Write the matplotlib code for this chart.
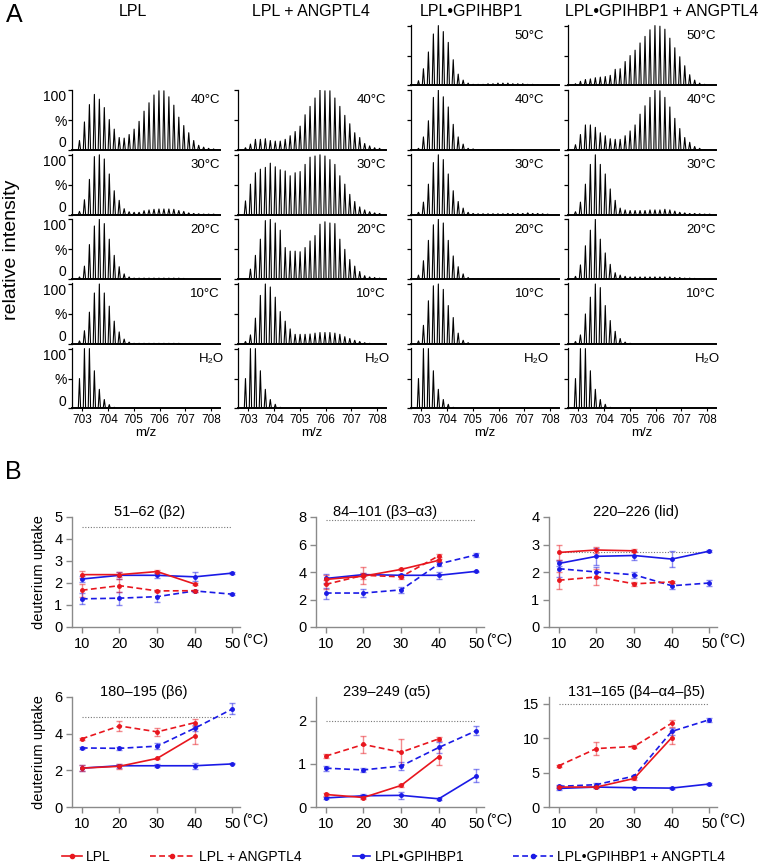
import matplotlib
matplotlib.use('Agg')
import matplotlib.pyplot as plt
from matplotlib.lines import Line2D
from matplotlib.colors import to_rgba

plt.rcParams['font.family'] = ['Liberation Sans', 'DejaVu Sans']

# ---------------- Panel A data ----------------
COLUMN_TITLES = ['LPL', 'LPL + ANGPTL4', 'LPL\u2022GPIHBP1', 'LPL\u2022GPIHBP1 + ANGPTL4']
ROW_LABELS = ['50°C', '40°C', '30°C', '20°C', '10°C', 'H\u2082O']
MZ_TICKS = [703, 704, 705, 706, 707, 708]
PEAK_START_MZ = 702.89
PEAK_SPACING_MZ = 0.193

LPL_SPECTRA = [
    None,
    [16, 47, 76, 93, 85, 71, 51, 35, 21, 20, 26, 35, 48, 65, 79, 92, 99, 99, 89, 75, 55, 41, 29, 16, 8, 5, 3, 2],
    [5.5, 25, 59, 97, 100, 93, 68, 40, 24, 10, 5, 4, 4, 6.7, 8, 9, 9.5, 9.5, 9.5, 9, 7, 5.5, 3, 2, 1.5, 1, 1, 1],
    [4, 22, 58, 89, 100, 93, 67, 40, 21, 9, 4, 2, 2, 2, 2, 2, 2, 2, 2, 2, 2, 1.5],
    [5, 22, 53, 85, 100, 85, 63, 38, 20, 8, 3, 1, 1, 1, 1, 1, 1, 1, 1, 1, 1],
    [50, 100, 100, 63, 32, 15, 6.5, 2],
]
LPL_ANG_SPECTRA = [
    None,
    [4, 10, 18, 18, 19, 16, 15, 15, 18, 24, 31, 40, 59, 73, 87, 100, 99, 99, 87, 73, 58, 44, 29, 21, 11, 7, 4, 3],
    [23, 51, 70, 76, 79, 86, 80, 75, 73, 65, 70, 72, 84, 96, 98, 100, 98, 92, 84, 65, 51, 34, 22, 13, 8, 5, 3, 2],
    [1, 17, 40, 67, 98, 100, 94, 82, 53, 47, 47, 46, 53, 64, 73, 92, 96, 94, 93, 67, 50, 33, 22, 13, 6, 4, 3, 2],
    [4, 15, 43, 81, 100, 95, 78, 54, 38, 25, 16, 16, 16, 16.5, 18, 19, 19, 19, 18, 16, 12, 9, 6, 4, 2, 1, 0.5, 0.5],
    [50, 100, 100, 63, 32, 15, 7, 2],
]
GP_SPECTRA = [
    [8, 28, 56, 86, 100, 90, 72, 43, 19, 9, 4, 2, 2, 2, 3, 3, 4, 4, 4, 3, 3, 3, 2, 2, 1.5, 1, 1, 0.5],
    [3, 22, 49, 88, 100, 89, 72, 43, 22, 10, 3, 2, 1, 1, 1, 1, 1, 1, 1, 1],
    [4, 21, 51, 87, 100, 92, 68, 40, 22, 11, 4, 2, 1.5, 1.5, 1.5, 1.5, 1.5, 1.5, 2, 2, 2, 2, 3, 2, 2, 1.5, 1],
    [7, 31, 65, 91, 100, 94, 65, 39, 21, 9, 3, 1, 1, 1, 1, 1, 1, 1, 1, 1, 1, 1, 1, 1, 1],
    [5, 31, 72, 97, 100, 91, 64, 44, 18, 6, 2],
    [50, 100, 100, 63, 32, 15, 7, 2],
]
GP_ANG_SPECTRA = [
    [3, 7, 10, 11, 13, 14, 15, 17, 27, 28, 40, 50, 59, 71, 82, 93, 100, 99, 94, 79, 63, 48, 33, 18, 9, 4, 2, 1],
    [9, 26, 42, 42, 38, 29, 24, 19, 18, 18, 24, 32, 42, 60, 74, 88, 100, 99, 88, 72, 53, 36, 21, 13, 6, 3, 1, 0.5],
    [5, 21, 51, 84, 100, 84, 68, 43, 24, 11, 8, 7, 7, 7, 7, 8, 8, 8, 9, 8, 6, 4, 3, 2, 2, 1.5, 1, 1],
    [5, 24, 56, 82, 100, 67, 44, 25, 11, 7, 5, 4, 4, 4, 4, 4, 4, 4, 4, 4, 3, 3, 2, 2, 1.5, 1, 1, 1],
    [4, 15, 50, 78, 100, 94, 64, 39, 21, 9, 3, 1],
    [50, 100, 100, 63, 32, 15, 7, 2],
]
SPECTRA = [LPL_SPECTRA, LPL_ANG_SPECTRA, GP_SPECTRA, GP_ANG_SPECTRA]

# ---------------- Panel B data ----------------
TEMPS = [10, 20, 30, 40, 50]
PEPTIDES = ['51\u201362 (\u03b22)', '84\u2013101 (\u03b23\u2013\u03b13)', '220\u2013226 (lid)',
            '180\u2013195 (\u03b26)', '239\u2013249 (\u03b15)', '131\u2013165 (\u03b24\u2013\u03b14\u2013\u03b25)']
MAX_UPTAKE = [4.55, 7.75, 2.72, 4.92, 2.0, 15.0]
Y_MAX = [5, 8, 4, 6, 2.55, 16]
Y_TICKS = [[0, 1, 2, 3, 4, 5], [0, 2, 4, 6, 8], [0, 1, 2, 3, 4], [0, 2, 4, 6], [0, 1, 2], [0, 5, 10, 15]]
SERIES_NAMES = ['LPL', 'LPL + ANGPTL4', 'LPL\u2022GPIHBP1', 'LPL\u2022GPIHBP1 + ANGPTL4']

LPL_UPTAKE = [[2.38, 2.38, 2.52, 1.95], [3.46, 3.70, 4.19, 4.85], [2.71, 2.80, 2.77],
              [2.12, 2.22, 2.65, 3.87], [0.29, 0.22, 0.50, 1.17], [2.9, 2.9, 4.15, 10.1]]
LPL_ERR = [[0.15, 0.10, 0.06, 0.06], [0.35, 0.20, 0.08, 0.10], [0.28, 0.10, 0.05],
           [0.15, 0.12, 0.05, 0.45], [0.03, 0.04, 0.03, 0.20], [0.2, 0.15, 0.2, 1.0]]
LPL_ANG_UPTAKE = [[1.67, 1.88, 1.64, 1.65], [3.10, 3.76, 3.65, 5.18], [1.70, 1.82, 1.57, 1.64],
                  [3.72, 4.42, 4.10, 4.60], [1.18, 1.45, 1.27, 1.58], [6.0, 8.5, 8.8, 12.2]]
LPL_ANG_ERR = [[0.30, 0.30, 0.05, 0.05], [0.30, 0.60, 0.15, 0.10], [0.30, 0.28, 0.08, 0.05],
               [0.05, 0.25, 0.20, 0.20], [0.04, 0.20, 0.30, 0.05], [0.15, 0.9, 0.2, 0.5]]
GP_UPTAKE = [[2.18, 2.35, 2.35, 2.28, 2.45], [3.53, 3.81, 3.76, 3.76, 4.05], [2.31, 2.57, 2.60, 2.47, 2.76],
             [2.12, 2.25, 2.25, 2.25, 2.35], [0.21, 0.26, 0.27, 0.19, 0.72], [2.7, 2.9, 2.8, 2.75, 3.35]]
GP_ERR = [[0.15, 0.15, 0.12, 0.20, 0.03], [0.35, 0.10, 0.10, 0.25, 0.03], [0.10, 0.30, 0.15, 0.28, 0.03],
          [0.15, 0.12, 0.08, 0.15, 0.03], [0.03, 0.04, 0.08, 0.02, 0.15], [0.2, 0.15, 0.1, 0.2, 0.1]]
GP_ANG_UPTAKE = [[1.28, 1.31, 1.38, 1.64, 1.49], [2.47, 2.47, 2.70, 4.59, 5.25], [2.12, 2.00, 1.90, 1.50, 1.60],
                 [3.22, 3.20, 3.32, 4.30, 5.35], [0.90, 0.86, 0.95, 1.38, 1.77], [3.0, 3.25, 4.5, 11.0, 12.7]]
GP_ANG_ERR = [[0.25, 0.30, 0.25, 0.05, 0.05], [0.40, 0.30, 0.20, 0.15, 0.15], [0.30, 0.20, 0.10, 0.10, 0.12],
              [0.05, 0.10, 0.15, 0.15, 0.30], [0.06, 0.05, 0.10, 0.12, 0.10], [0.2, 0.2, 0.2, 0.5, 0.3]]

# ---------------- figure & layout ----------------
W, H = 762, 863
fig = plt.figure(figsize=(W / 100, H / 100), dpi=100)


def add_ax(left, top, width, height):
    return fig.add_axes([left / W, 1 - (top + height) / H, width / W, height / H])


RED = '#e8161e'
BLUE = '#1a1ae6'

# ---------------- Panel A ----------------
A_COL_LEFT = [72, 238, 411, 568]
A_COL_W = 148
A_ROW_TOP0 = 25
A_ROW_STEP = 64.6
A_ROW_H = 60.5
LABEL_XFRAC = [1.0, 1.0, 0.9, 1.0]
HALF_W = 0.045

for c, col_spectra in enumerate(SPECTRA):
    for r, heights in enumerate(col_spectra):
        if heights is None:
            continue
        ax = add_ax(A_COL_LEFT[c], A_ROW_TOP0 + r * A_ROW_STEP, A_COL_W, A_ROW_H)
        xs, ys = [], []
        for k, h in enumerate(heights):
            mz = PEAK_START_MZ + k * PEAK_SPACING_MZ
            xs += [mz - HALF_W, mz, mz + HALF_W]
            ys += [0, h, 0]
        ax.plot(xs, ys, color='black', lw=0.8)
        ax.set_xlim(702.6, 708.35)
        ax.set_ylim(0, 101)
        for s in ('top', 'right'):
            ax.spines[s].set_visible(False)
        ax.spines['bottom'].set_linewidth(1.4)
        ax.spines['left'].set_linewidth(0.9)
        ax.set_yticks([0, 50, 100])
        ax.tick_params(axis='y', direction='out', length=3, width=0.9, pad=1)
        if c == 0:
            labels = ax.set_yticklabels(['0', '%', '100'], fontsize=10)
            labels[0].set_verticalalignment('bottom')
            labels[2].set_verticalalignment('top')
        else:
            ax.set_yticklabels([])
        ax.set_xticks(MZ_TICKS)
        if r == len(col_spectra) - 1:
            ax.set_xticklabels([str(t) for t in MZ_TICKS], fontsize=8.5)
            ax.tick_params(axis='x', direction='out', length=2, width=0.8, pad=2)
            ax.set_xlabel('m/z', fontsize=9.5, labelpad=1)
        else:
            ax.tick_params(axis='x', length=0, labelbottom=False)
        xf = LABEL_XFRAC[c] + (0.03 if r == len(col_spectra) - 1 else 0)
        ax.text(xf, 0.82, ROW_LABELS[r], transform=ax.transAxes, ha='right', va='center', fontsize=9.5)

TITLE_X = [133, 311, 471, 662]
for c, t in enumerate(COLUMN_TITLES):
    fig.text(TITLE_X[c] / W, 1 - 11 / H, t, ha='center', va='center', fontsize=11.5)

fig.text(14 / W, 1 - 15 / H, 'A', ha='center', va='center', fontsize=18)
fig.text(12 / W, 1 - 250 / H, 'relative intensity', rotation=90, ha='center', va='center', fontsize=14)

# ---------------- Panel B ----------------
fig.text(13 / W, 1 - 472 / H, 'B', ha='center', va='center', fontsize=18)

B_COL_LEFT = [72, 316, 549]
B_ROW_TOP = [517, 697]
B_W, B_H = 168, 110
TITLE_XFRAC = [0.46, 0.41, 0.52, 0.43, 0.42, 0.52]

series = [
    (LPL_UPTAKE, LPL_ERR, RED, '-'),
    (LPL_ANG_UPTAKE, LPL_ANG_ERR, RED, (0, (3.5, 2))),
    (GP_UPTAKE, GP_ERR, BLUE, '-'),
    (GP_ANG_UPTAKE, GP_ANG_ERR, BLUE, (0, (3.5, 2))),
]
draw_order = [2, 3, 0, 1]

for i in range(6):
    row, col = divmod(i, 3)
    ax = add_ax(B_COL_LEFT[col], B_ROW_TOP[row], B_W, B_H)
    ax.hlines(MAX_UPTAKE[i], TEMPS[0], TEMPS[-1], colors='#777777', linestyles=(0, (1, 1.5)), lw=0.8)
    for s in draw_order:
        vals, errs, color, ls = series[s]
        y = vals[i]
        x = TEMPS[:len(y)]
        ax.errorbar(x, y, yerr=errs[i], color=color, ls=ls, lw=1.2, marker='o', ms=2.5,
                    ecolor=to_rgba(color, 0.5), elinewidth=1.0, capsize=2, capthick=1.0)
    ax.set_xlim(7.4, 52)
    ax.set_ylim(0, Y_MAX[i])
    ax.set_yticks(Y_TICKS[i])
    ax.set_yticklabels([str(v) for v in Y_TICKS[i]])
    ax.set_xticks(TEMPS)
    ax.set_xticklabels([str(t) for t in TEMPS])
    for s in ('top', 'right'):
        ax.spines[s].set_visible(False)
    for s in ('left', 'bottom'):
        ax.spines[s].set_color('#8a8a8a')
        ax.spines[s].set_linewidth(1.0)
    ax.tick_params(direction='out', length=4, width=1.0, color='#8a8a8a', labelsize=10.5, pad=3)
    ax.annotate('(°C)', xy=(50, 0), xycoords=('data', 'axes fraction'), xytext=(10, -13),
                textcoords='offset pixels', ha='left', va='center', fontsize=10.5)
    ax.text(TITLE_XFRAC[i], 1.045, PEPTIDES[i], transform=ax.transAxes, ha='center', va='center', fontsize=10.5)
    if col == 0:
        ax.set_ylabel('deuterium uptake', fontsize=10.5, labelpad=6)

# ---------------- Legend ----------------
LEG_X = [62, 150, 353, 513]
LEG_HANDLE_LEN = [1.45, 3.2, 1.25, 2.9]
for s in range(4):
    vals, errs, color, ls = series[s]
    h = Line2D([], [], color=color, ls=ls, lw=1.2, marker='o', ms=3)
    fig.legend(handles=[h], labels=[SERIES_NAMES[s]], loc='center left',
               bbox_to_anchor=(LEG_X[s] / W, 1 - 857 / H), frameon=False, fontsize=10,
               handlelength=LEG_HANDLE_LEN[s], handletextpad=0.3, borderpad=0, borderaxespad=0)

fig.savefig('out.png', dpi=100)
